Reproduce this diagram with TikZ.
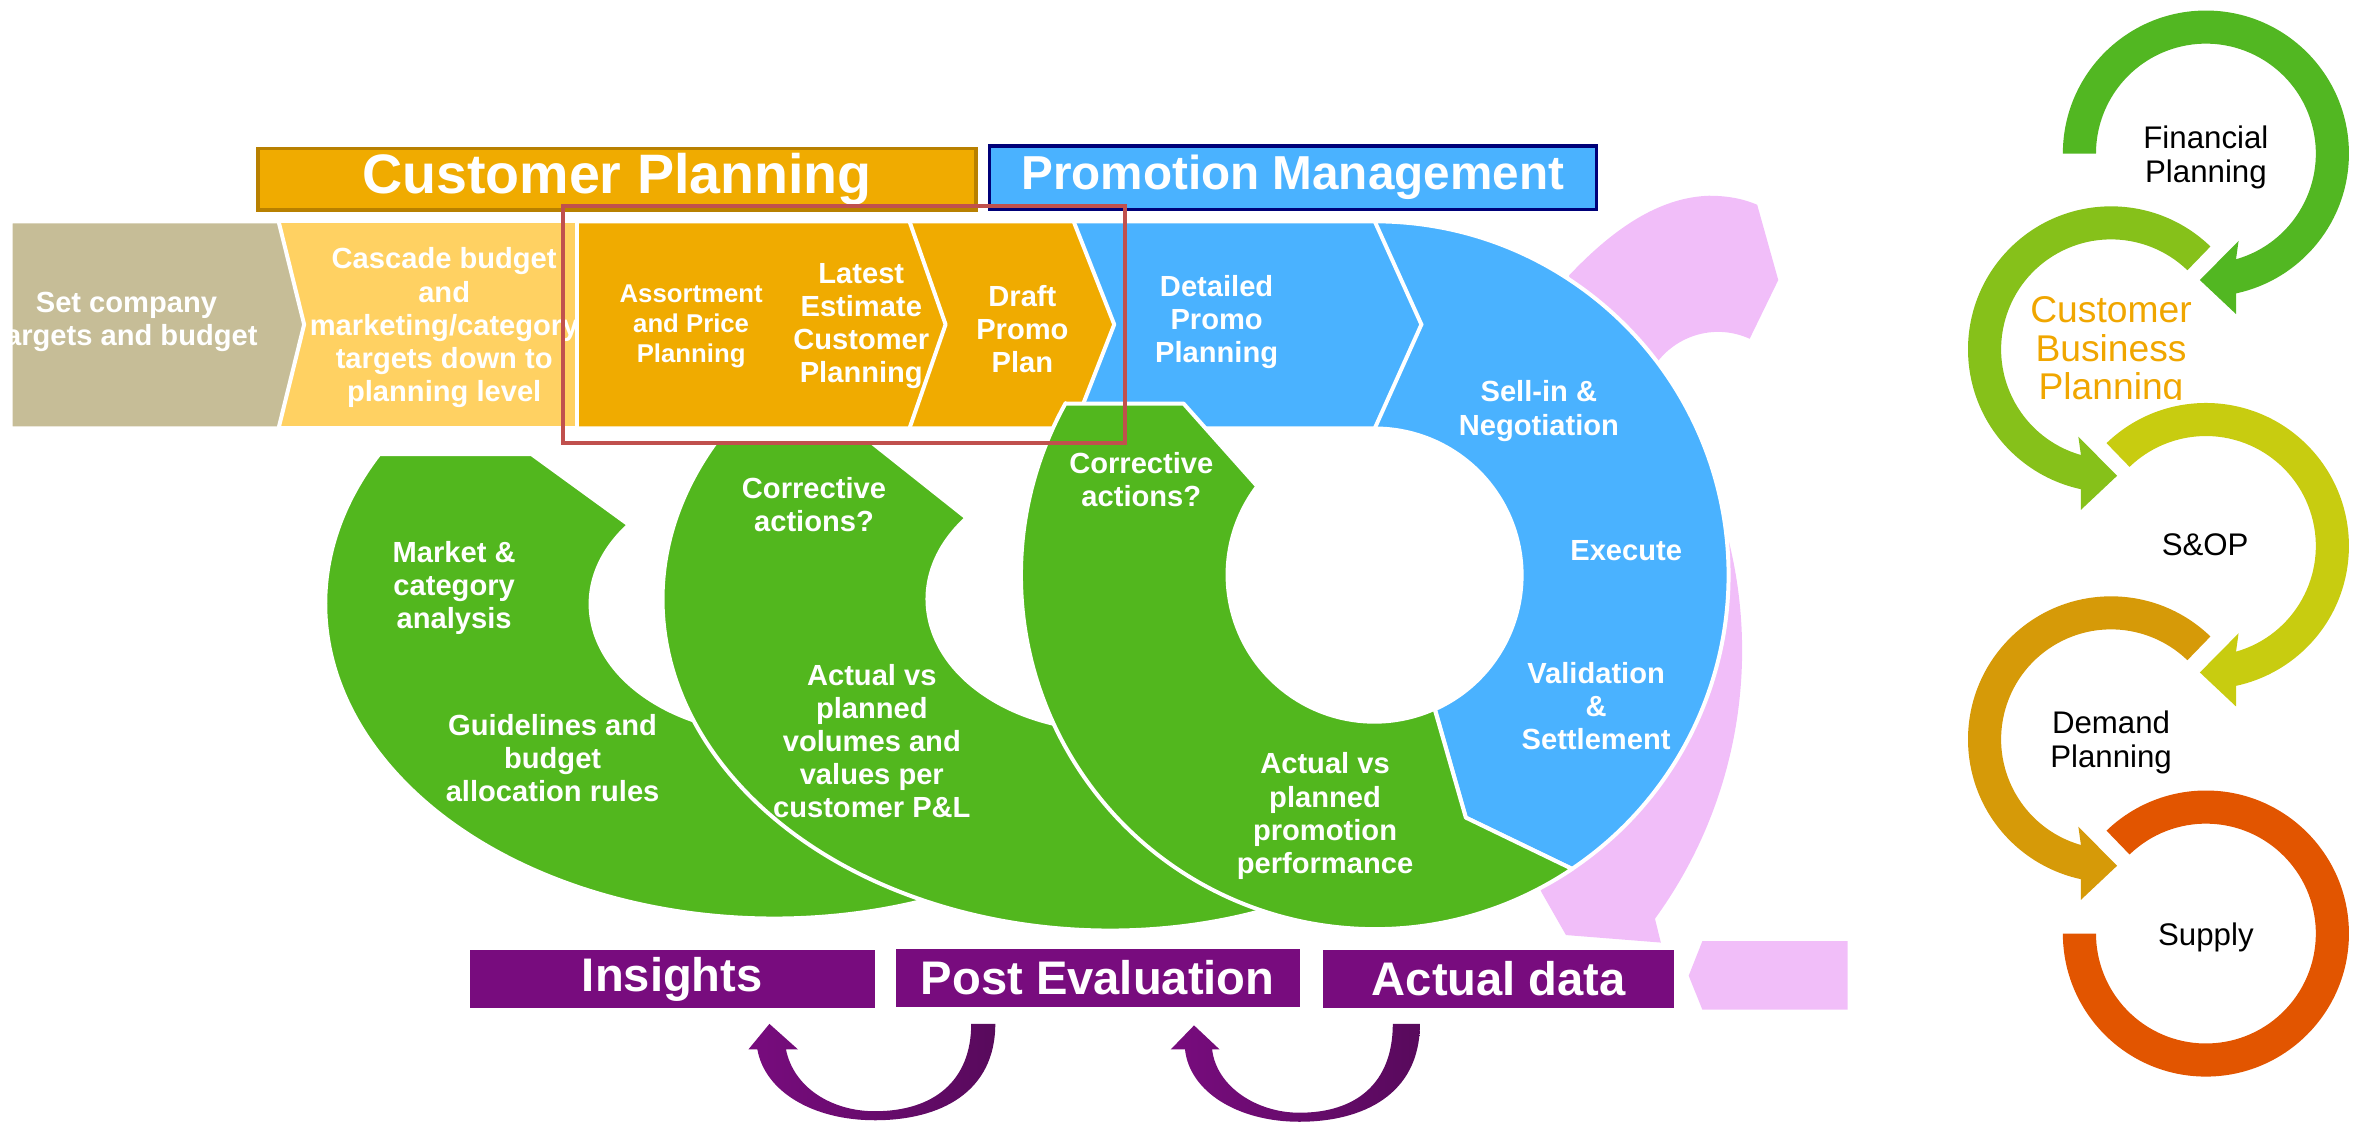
\documentclass[tikz,border=0pt]{standalone}
\usepackage{fontspec}
\setmainfont{Liberation Sans}
\usepackage{tikz}
\definecolor{targettan}{RGB}{198,189,151}
\definecolor{cascyellow}{RGB}{255,209,98}
\definecolor{planorange}{RGB}{240,171,0}
\definecolor{planedge}{RGB}{184,128,0}
\definecolor{promoblue}{RGB}{74,178,255}
\definecolor{promoedge}{RGB}{0,0,120}
\definecolor{loopgreen}{RGB}{82,183,30}
\definecolor{tagpurple}{RGB}{120,12,126}
\definecolor{tagdark}{RGB}{88,10,92}
\definecolor{backpink}{RGB}{241,190,249}
\definecolor{focusred}{RGB}{192,80,77}
\definecolor{finring}{RGB}{82,183,34}
\definecolor{cbpring}{RGB}{134,193,26}
\definecolor{sopring}{RGB}{200,204,16}
\definecolor{dmdring}{RGB}{214,154,8}
\definecolor{supring}{RGB}{226,85,0}
\definecolor{cbptext}{RGB}{240,166,0}

\begin{document}
\begin{tikzpicture}[x=0.01cm, y=-0.01cm,
    seg/.style={draw=white, line width=0.75pt, line join=round},
    lbl/.style={text=white, font=\bfseries\fontsize{5.5}{6.26}\selectfont, align=center, inner sep=0pt},
    hdr/.style={text=white, font=\bfseries, inner sep=0pt, outer sep=0pt, line width=0.6pt},
    tag/.style={fill=tagpurple, text=white, font=\bfseries\fontsize{8.9}{10}\selectfont, inner sep=0pt,
                minimum height=0.385cm},
    sidelbl/.style={font=\fontsize{5.9}{6.4}\selectfont, align=center, inner sep=0pt}]
    \useasboundingbox (0,0) rectangle (1568,746);

    % pink return arrow, partly hidden by the promotion ring
    \fill[backpink] (1042,183) .. controls (1075,148) and (1105,131) .. (1135,130)
        .. controls (1150,130) and (1160,133) .. (1167,136) -- (1181,186) -- (1162,225)
        .. controls (1140,215) and (1115,222) .. (1101,240) -- (1060,260) -- cycle;
    \fill[backpink] (1128.6,304) arc[start angle=-25, end angle=36, radius=303]
        -- (1103,626) -- (1040,621) -- (1024,593) -- (1000,540) -- (1060,380) -- cycle;
    \fill[backpink] (1130.6,625) -- (1227,625) -- (1227,670.6) -- (1130.6,670.6) -- (1121.5,648) -- cycle;

    % process row and promotion ring
    \filldraw[seg, fill=promoblue] (700,147) -- (913,147) arc[start angle=-90, end angle=56.1, radius=235]
        -- (973.5,543) -- (953,471) arc[start angle=65.8, end angle=-90, radius=97.5] -- (700,284.5) -- cycle;
    \draw[white, line width=0.75pt] (913,147) -- (944,215.5) -- (913,284.5);
    \filldraw[seg, fill=planorange] (600,147) -- (713,147) -- (740,215.5) -- (713,284.5) -- (600,284.5) -- cycle;
    \filldraw[seg, fill=planorange] (383,147) -- (604,147) -- (628,215.5) -- (604,284.5) -- (383,284.5) -- cycle;
    \filldraw[seg, fill=cascyellow] (180,147) -- (383,147) -- (383,284.5) -- (180,284.5) -- cycle;
    \filldraw[seg, fill=targettan] (7,147) -- (185,147) -- (202,215.5) -- (185,284.5) -- (7,284.5) -- cycle;

    % three green loops, back to front
    \filldraw[seg, fill=loopgreen] (251.6,301.6) -- (353,301.6) -- (417.7,348.6)
        arc[start angle=217.7, end angle=60, x radius=122, y radius=86]
        -- (663,582) arc[start angle=60, end angle=208.4, x radius=298, y radius=209] -- cycle;
    \filldraw[seg, fill=loopgreen] (475,294) -- (579,294) -- (642,344)
        arc[start angle=218.3, end angle=60, x radius=121, y radius=87]
        -- (885.5,588.5) arc[start angle=60, end angle=208.2, x radius=297, y radius=220] -- cycle;
    \filldraw[seg, fill=loopgreen] (708,268) -- (786,268) -- (835,323)
        arc[start angle=217.1, end angle=65.8, radius=97.5]
        -- (973.5,543) -- (1044.1,577.1) arc[start angle=56.1, end angle=209.1, radius=235] -- cycle;

    % row labels
    \begin{scope}
        \clip (8,147) -- (185,147) -- (202,215.5) -- (185,284.5) -- (8,284.5) -- cycle;
        \node[lbl] (targets) at (84,213.7) {Set company\\targets and budget};
    \end{scope}
    \node[lbl] (cascade) at (295,217.7) {Cascade budget\\and\\marketing/category\\targets down to\\planning level};
    \node[lbl, font=\bfseries\fontsize{4.86}{5.69}\selectfont] (assort) at (459,216.8) {Assortment\\and Price\\Planning};
    \node[lbl] (latest) at (572,216.5) {Latest\\Estimate\\Customer\\Planning};
    \node[lbl] (draft) at (679,218.5) {Draft\\Promo\\Plan};
    \node[lbl] (detailed) at (808,213.8) {Detailed\\Promo\\Planning};
    \node[lbl] (sellin) at (1022,273) {Sell-in \&\\Negotiation};
    \node[lbl] (execute) at (1080,366) {Execute};
    \node[lbl] (settle) at (1060,469) {Validation\\\&\\Settlement};

    % loop labels
    \node[lbl] (market) at (301.6,390.6) {Market \&\\category\\analysis};
    \node[lbl] (rules) at (367,503.5) {Guidelines and\\budget\\allocation rules};
    \node[lbl] (corrA) at (540.6,335.2) {Corrective\\actions?};
    \node[lbl] (volumes) at (579,492.3) {Actual vs\\planned\\volumes and\\values per\\customer P\&L};
    \node[lbl] (corrB) at (758,318.3) {Corrective\\actions?};
    \node[lbl] (perf) at (880,542) {Actual vs\\planned\\promotion\\performance};

    % headers
    \node[hdr, fill=planorange, draw=planedge, minimum width=4.765cm, minimum height=0.41cm,
          font=\bfseries\fontsize{10.5}{12}\selectfont] (cplan) at (409.75,119) {Customer Planning};
    \node[hdr, fill=promoblue, draw=promoedge, minimum width=4.03cm, minimum height=0.42cm,
          font=\bfseries\fontsize{9}{11}\selectfont] (pmgmt) at (858.5,118) {Promotion Management};
    \draw[focusred, line width=0.8pt] (374,137) rectangle (747,294);

    % feedback tags and loops
    \node[tag, minimum width=2.69cm] (insights) at (446.5,650.25) {Insights};
    \node[tag, minimum width=2.68cm] (posteval) at (729,649.2) {Post Evaluation};
    \node[tag, minimum width=2.332cm] (actual) at (995.4,650.25) {Actual data};
    \shade[left color=tagpurple, right color=tagdark] (645,680) -- (661,680)
        .. controls (661,725) and (625,744) .. (581,744) .. controls (540,744) and (508,725) .. (503,697)
        -- (497,697) -- (511,680) -- (530,697) -- (522,697)
        .. controls (527,722) and (552,738) .. (581,738) .. controls (620,738) and (645,718) .. (645,680) -- cycle;
    \shade[left color=tagpurple, right color=tagdark] (925,680) -- (943,680)
        .. controls (943,727) and (905,745) .. (863,745) .. controls (822,745) and (790,725) .. (787,697)
        -- (777.5,697) -- (793,681) -- (810,697) -- (805,697)
        .. controls (808,722) and (835,739) .. (863,739) .. controls (900,739) and (925,720) .. (925,680) -- cycle;

    % planning chain on the right
    \fill[finring] (1370,102) arc[start angle=180, end angle=437.85, radius=95]
        -- (1485,208.6) -- (1461,186) -- (1486.7,160) -- (1485,172.2)
        arc[start angle=434.1, end angle=180, radius=73] -- cycle;
    \fill[cbpring] (1468,163.7) arc[start angle=-46, end angle=-257.85, radius=95]
        -- (1382,338.6) -- (1406,316) -- (1380.3,290) -- (1382,302.2)
        arc[start angle=-254.1, end angle=-46, radius=73] -- cycle;
    \fill[sopring] (1399,294.3) arc[start angle=226, end angle=437.85, radius=95]
        -- (1485,469.2) -- (1461,446.6) -- (1486.7,420.6) -- (1485,432.8)
        arc[start angle=434.1, end angle=226, radius=73] -- cycle;
    \fill[dmdring] (1468,422.7) arc[start angle=-46, end angle=-257.85, radius=95]
        -- (1382,597.6) -- (1406,575) -- (1380.3,549) -- (1382,561.2)
        arc[start angle=-254.1, end angle=-46, radius=73] -- cycle;
    \fill[supring] (1370,620) arc[start angle=180, end angle=-134, radius=95]
        -- (1414.3,567.5) arc[start angle=-134, end angle=180, radius=73] -- cycle;

    \node[sidelbl] (fin) at (1465,104.5) {Financial\\Planning};
    \begin{scope}
        \clip (1330,180) rectangle (1480,265.6);
        \node[sidelbl, text=cbptext, font=\fontsize{7.03}{7.25}\selectfont] (cbp) at (1402,233.8) {Customer\\Business\\Planning};
    \end{scope}
    \node[sidelbl] (sop) at (1464.5,362) {S\&OP};
    \node[sidelbl] (demand) at (1402,493) {Demand\\Planning};
    \node[sidelbl] (supply) at (1465,622.5) {Supply};
\end{tikzpicture}
\end{document}
